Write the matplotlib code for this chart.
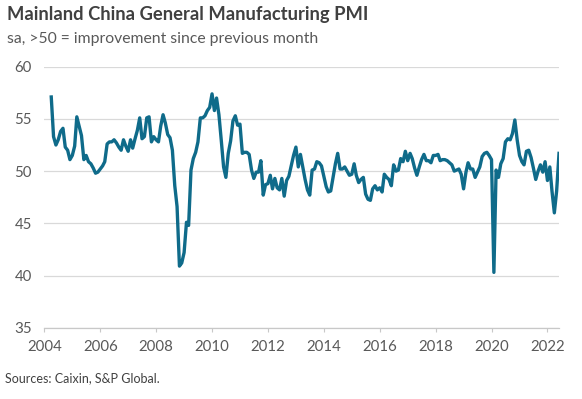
import matplotlib
matplotlib.use('Agg')
import matplotlib.pyplot as plt
import matplotlib.dates as mdates
import pandas as pd

# Caixin China manufacturing PMI, sa, monthly (series starts Apr 2004)
pmi_2004 = [57.1, 53.3, 52.5, 53.0, 53.8, 54.1, 52.3, 52.0, 51.1]
pmi_2005 = [51.5, 52.4, 55.2, 54.3, 53.4, 51.1, 51.5, 50.9, 50.7, 50.3, 49.8, 49.9]
pmi_2006 = [50.2, 50.5, 50.9, 52.6, 52.8, 52.8, 53.0, 52.7, 52.3, 52.0, 53.0, 52.4]
pmi_2007 = [51.9, 53.0, 52.2, 53.1, 53.9, 55.1, 53.1, 53.3, 55.1, 55.2, 52.8, 53.3]
pmi_2008 = [53.0, 52.8, 54.3, 55.4, 54.6, 53.5, 53.2, 52.0, 48.6, 46.6, 40.9, 41.2]
pmi_2009 = [42.2, 45.1, 44.8, 50.1, 51.2, 51.8, 52.8, 55.1, 55.1, 55.3, 55.8, 56.1]
pmi_2010 = [57.4, 55.8, 57.0, 55.4, 53.0, 50.4, 49.4, 51.7, 52.9, 54.8, 55.3, 54.4]
pmi_2011 = [54.5, 51.7, 51.8, 51.8, 51.6, 50.1, 49.3, 49.9, 49.9, 51.0, 47.7, 48.7]
pmi_2012 = [48.8, 49.6, 48.3, 49.3, 48.4, 48.2, 49.3, 47.6, 49.1, 49.5, 50.5, 51.5]
pmi_2013 = [52.3, 50.4, 51.6, 50.4, 49.2, 48.2, 47.7, 50.1, 50.2, 50.9, 50.8, 50.5]
pmi_2014 = [49.5, 48.5, 48.0, 48.1, 49.4, 50.7, 51.7, 50.2, 50.2, 50.4, 50.0, 49.6]
pmi_2015 = [49.7, 50.7, 49.6, 48.9, 49.2, 49.4, 47.8, 47.3, 47.2, 48.3, 48.6, 48.2]
pmi_2016 = [48.4, 48.0, 49.7, 49.4, 49.2, 48.6, 50.6, 50.0, 50.1, 51.2, 50.9, 51.9]
pmi_2017 = [51.0, 51.7, 51.2, 50.3, 49.6, 50.4, 51.1, 51.6, 51.0, 51.0, 50.8, 51.5]
pmi_2018 = [51.5, 51.6, 51.0, 51.1, 51.1, 51.0, 50.8, 50.6, 50.0, 50.1, 50.2, 49.7]
pmi_2019 = [48.3, 49.9, 50.8, 50.2, 50.2, 49.4, 49.9, 50.4, 51.4, 51.7, 51.8, 51.5]
pmi_2020 = [51.1, 40.3, 50.1, 49.4, 50.7, 51.2, 52.8, 53.1, 53.0, 53.6, 54.9, 53.0]
pmi_2021 = [51.5, 50.9, 50.6, 51.9, 52.0, 51.3, 50.3, 49.2, 50.0, 50.6, 49.9, 50.9]
pmi_2022 = [49.1, 50.4, 48.1, 46.0, 48.1, 51.7]

pmi = (pmi_2004 + pmi_2005 + pmi_2006 + pmi_2007 + pmi_2008 + pmi_2009 + pmi_2010
       + pmi_2011 + pmi_2012 + pmi_2013 + pmi_2014 + pmi_2015 + pmi_2016 + pmi_2017
       + pmi_2018 + pmi_2019 + pmi_2020 + pmi_2021 + pmi_2022)
dates = pd.date_range('2004-04-01', periods=len(pmi), freq='MS')

title = 'Mainland China General Manufacturing PMI'
subtitle = 'sa, >50 = improvement since previous month'
source = 'Sources: Caixin, S&P Global.'

plt.rcParams['font.family'] = ['Lato', 'DejaVu Sans']

fig = plt.figure(figsize=(5.82, 3.99), dpi=100)
ax = fig.add_axes([0.0761, 0.1787, 0.8844, 0.6541])

ax.plot(dates, pmi, color='#0f6b8a', lw=2.4, solid_joinstyle='round')

ax.set_xlim(pd.Timestamp('2004-01-01'), pd.Timestamp('2022-06-01'))
ax.set_ylim(35, 60)
ax.set_yticks(range(35, 61, 5))
ax.xaxis.set_major_locator(mdates.YearLocator(2))
ax.xaxis.set_major_formatter(mdates.DateFormatter('%Y'))

ax.yaxis.grid(True, color='#d9d9d9', lw=0.9)
ax.set_axisbelow(True)
for s in ['left', 'right', 'top']:
    ax.spines[s].set_visible(False)
ax.spines['bottom'].set_color('#c8c8c8')
ax.spines['bottom'].set_linewidth(0.9)

ax.tick_params(axis='x', length=3, color='#c8c8c8', pad=6, labelsize=10.8, labelcolor='#595959')
ax.tick_params(axis='y', length=0, pad=9, labelsize=10.8, labelcolor='#595959')

fig.text(7 / 582, 1 - 20 / 399, title, fontsize=13.2, fontweight='bold', color='#404040', va='baseline')
fig.text(7 / 582, 1 - 43 / 399, subtitle, fontsize=11.3, color='#595959', va='baseline')
fig.text(5 / 582, 1 - 382 / 399, source, fontsize=9, color='#404040', va='baseline')

fig.savefig('out.png', dpi=100)
